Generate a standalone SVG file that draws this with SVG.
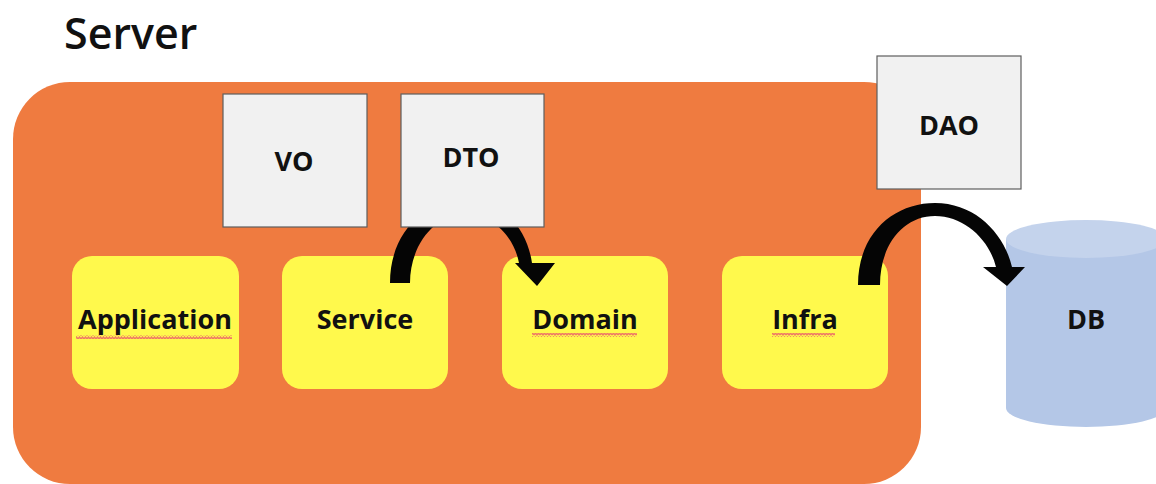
<svg xmlns="http://www.w3.org/2000/svg" width="1156" height="484" viewBox="0 0 1156 484">
  <style>
    .title { font-family: "Open Sans", "Liberation Sans", sans-serif; font-size: 43px; font-weight: 600; fill: #111; }
    .label { font-family: "Open Sans", "Liberation Sans", sans-serif; font-size: 27px; font-weight: 700; fill: #111; text-anchor: middle; }
    .layer { fill: #FFF94C; }
    .obj { fill: #F1F1F1; stroke: #5e5e5e; stroke-width: 1.2; }
    .squiggle { fill: none; stroke: #EE7A66; stroke-width: 1.4; }
    .arc { fill: #050505; }
  </style>
  <defs>
    <pattern id="wave" width="6" height="4" patternUnits="userSpaceOnUse">
      <path d="M0,3 L1.5,1 L3,3 L4.5,1 L6,3" class="squiggle"/>
    </pattern>
  </defs>

  <rect width="1156" height="484" fill="#ffffff"/>

  <text class="title" x="64" y="49">Server</text>

  <!-- server container -->
  <g id="server">
    <rect x="13" y="82" width="908" height="402" rx="57" fill="#EF7B40"/>
  </g>

  <!-- layers -->
  <g id="application">
    <rect class="layer" x="72" y="256" width="167" height="133" rx="20"/>
    <text class="label" x="155" y="329">Application</text>
    <rect x="76" y="335" width="156" height="4" fill="url(#wave)"/>
  </g>
  <g id="service">
    <rect class="layer" x="282" y="256" width="166" height="133" rx="20"/>
    <text class="label" x="365" y="329">Service</text>
  </g>
  <g id="domain">
    <rect class="layer" x="502" y="256" width="166" height="133" rx="20"/>
    <text class="label" x="585" y="329">Domain</text>
    <rect x="532" y="333" width="105" height="4" fill="url(#wave)"/>
  </g>
  <g id="infra">
    <rect class="layer" x="722" y="256" width="166" height="133" rx="20"/>
    <text class="label" x="805" y="329">Infra</text>
    <rect x="772" y="333" width="63" height="4" fill="url(#wave)"/>
  </g>

  <!-- database -->
  <g id="db">
    <path d="M1006,239 L1006,408 A80,19 0 0 0 1166,408 L1166,239 Z" fill="#B4C7E7"/>
    <ellipse cx="1086" cy="239" rx="80" ry="19" fill="#C4D3EC"/>
    <text class="label" x="1086" y="329">DB</text>
  </g>

  <!-- connectors -->
  <g id="connectors">
    <path class="arc" d="M390,283 C390,232 425,200 465,200 C503,200 527,228 532,263 L555,263 L537,286 L515,263 L519,263 C514,236 492,214 465,214 C435,214 410,245 410,283 Z"/>
    <path class="arc" d="M858,285 C858,232 895,203 935,203 C975,203 1004,233 1012,267 L1025,267 L1007,286 L983,267 L996,267 C989,239 964,216 935,216 C903,216 880,245 880,285 Z"/>
  </g>

  <!-- value / transfer / access objects -->
  <g id="vo">
    <rect class="obj" x="223" y="94" width="144" height="133"/>
    <text class="label" x="294" y="171">VO</text>
  </g>
  <g id="dto">
    <rect class="obj" x="401" y="94" width="143" height="133"/>
    <text class="label" x="471" y="167">DTO</text>
  </g>
  <g id="dao">
    <rect class="obj" x="877" y="56" width="144" height="133"/>
    <text class="label" x="949" y="135">DAO</text>
  </g>
</svg>
